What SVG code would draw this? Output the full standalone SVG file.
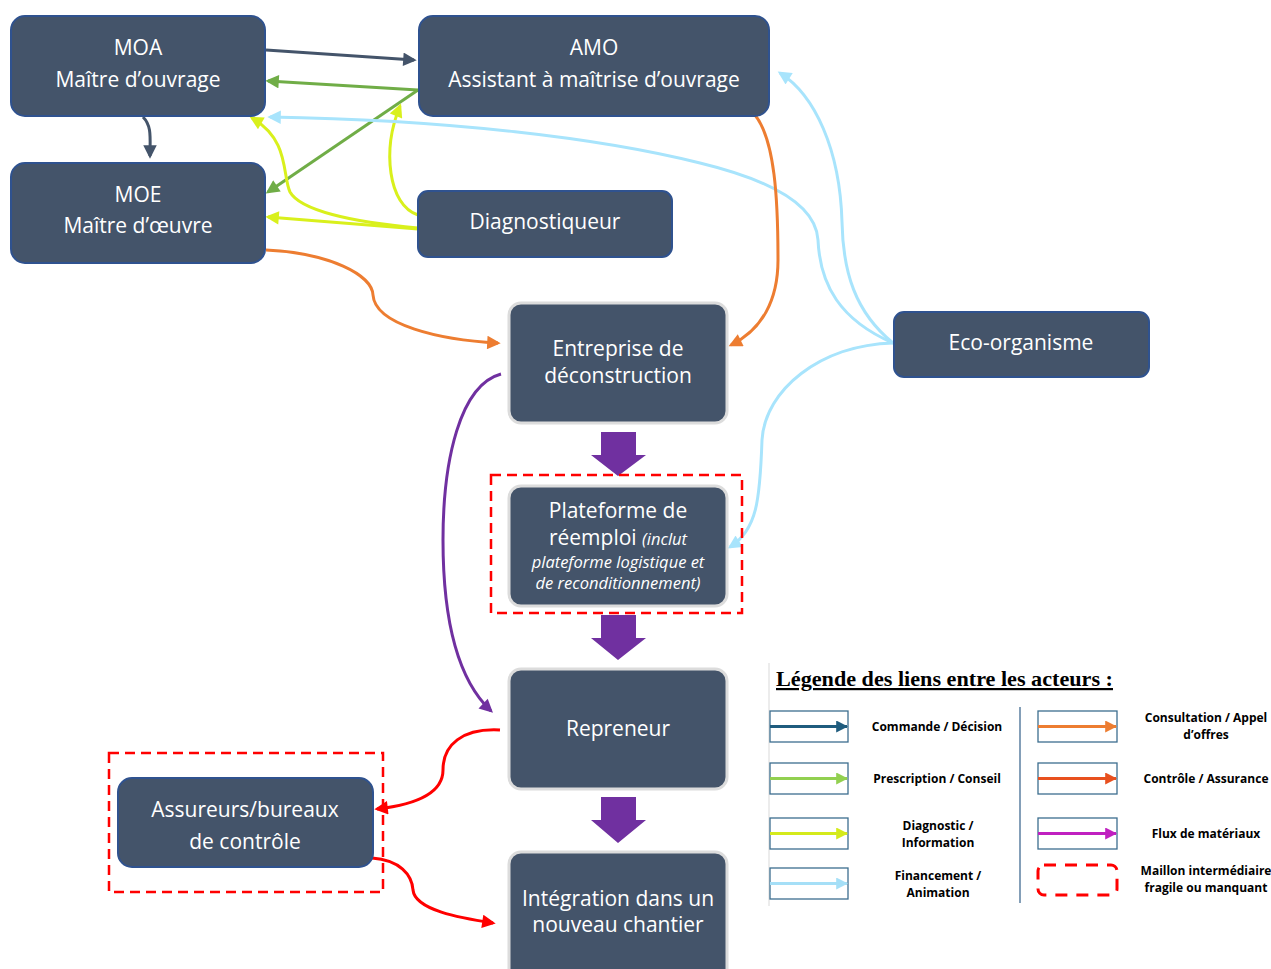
<svg xmlns="http://www.w3.org/2000/svg" width="1271" height="969" viewBox="0 0 1271 969">
<defs>
<style>
.node{fill:#44546A;stroke:#2F528F;stroke-width:2}
.cnode{fill:#44546A;stroke:#DCDCDC;stroke-width:3}
.t{font-family:"Open Sans","Noto Sans",sans-serif;font-size:21px;fill:#FFFFFF;text-anchor:middle}
.ti{font-family:"Open Sans","Noto Sans",sans-serif;font-size:16.5px;font-style:italic;fill:#FFFFFF;text-anchor:middle}
.dash{fill:none;stroke:#FF0000;stroke-width:2.5;stroke-dasharray:10,6}
.c{fill:none;stroke-width:3}
.lg{font-family:"Open Sans","Noto Sans",sans-serif;font-size:12px;font-weight:bold;fill:#000;text-anchor:middle}
.lbox{fill:#fff;stroke:#3C6E8F;stroke-width:1.3}
.blk{fill:#7030A0}
</style>
<marker id="mDark" viewBox="0 0 10 10" refX="8" refY="5" markerWidth="5" markerHeight="4.5" orient="auto"><path d="M0,0 L10,5 L0,10 z" fill="#44546A"/></marker>
<marker id="mGreen" viewBox="0 0 10 10" refX="8" refY="5" markerWidth="5" markerHeight="4.5" orient="auto"><path d="M0,0 L10,5 L0,10 z" fill="#70AD47"/></marker>
<marker id="mYel" viewBox="0 0 10 10" refX="8" refY="5" markerWidth="5" markerHeight="4.5" orient="auto"><path d="M0,0 L10,5 L0,10 z" fill="#D9F01C"/></marker>
<marker id="mBlue" viewBox="0 0 10 10" refX="8" refY="5" markerWidth="5" markerHeight="4.5" orient="auto"><path d="M0,0 L10,5 L0,10 z" fill="#A8E4FC"/></marker>
<marker id="mOr" viewBox="0 0 10 10" refX="8" refY="5" markerWidth="5" markerHeight="4.5" orient="auto"><path d="M0,0 L10,5 L0,10 z" fill="#ED7D31"/></marker>
<marker id="mPur" viewBox="0 0 10 10" refX="8" refY="5" markerWidth="5" markerHeight="4.5" orient="auto"><path d="M0,0 L10,5 L0,10 z" fill="#7030A0"/></marker>
<marker id="mRed" viewBox="0 0 10 10" refX="8" refY="5" markerWidth="5" markerHeight="4.5" orient="auto"><path d="M0,0 L10,5 L0,10 z" fill="#FF0000"/></marker>
<marker id="lA" viewBox="0 0 10 10" refX="9" refY="5" markerWidth="4" markerHeight="4" orient="auto"><path d="M0,0 L10,5 L0,10 z" fill="context-stroke"/></marker>
</defs>
<rect x="0" y="0" width="1271" height="969" fill="#FFFFFF"/>

<g id="connectors">
<path class="c" stroke="#44546A" d="M266,50 L414,60" marker-end="url(#mDark)"/>
<path class="c" stroke="#44546A" d="M143,117 C152,126 150,138 150,156" marker-end="url(#mDark)"/>
<path class="c" stroke="#70AD47" d="M418,90 L268,81" marker-end="url(#mGreen)"/>
<path class="c" stroke="#70AD47" d="M418,90 L268,192" marker-end="url(#mGreen)"/>
<path class="c" stroke="#D9F01C" d="M418,215 C388,205 382,150 400,106" marker-end="url(#mYel)"/>
<path class="c" stroke="#D9F01C" d="M418,228 C350,222 300,210 290,192 C282,175 290,140 252,118" marker-end="url(#mYel)"/>
<path class="c" stroke="#D9F01C" d="M418,229 L268,217" marker-end="url(#mYel)"/>
<path class="c" stroke="#A8E4FC" d="M893,343 C840,320 820,285 818,240 C816,205 770,180 700,163 C600,138 450,120 270,117" marker-end="url(#mBlue)"/>
<path class="c" stroke="#A8E4FC" d="M893,343 C855,312 843,272 842,222 C840,150 815,95 780,73" marker-end="url(#mBlue)"/>
<path class="c" stroke="#A8E4FC" d="M893,343 C820,345 765,390 762,440 C760,500 757,530 730,547" marker-end="url(#mBlue)"/>
<path class="c" stroke="#ED7D31" d="M755,115 C775,140 778,200 778,260 C778,300 762,330 731,345" marker-end="url(#mOr)"/>
<path class="c" stroke="#ED7D31" d="M266,250 C330,253 372,275 373,295 C375,325 440,340 498,343" marker-end="url(#mOr)"/>
<path class="c" stroke="#7030A0" d="M501,374 C460,385 443,460 443,540 C443,620 458,680 491,711" marker-end="url(#mPur)"/>
<path class="c" stroke="#FF0000" d="M500,730 C462,728 443,745 443,770 C443,795 412,805 377,809" marker-end="url(#mRed)"/>
<path class="c" stroke="#FF0000" d="M372,858 C400,860 412,875 413,890 C415,910 460,918 493,923" marker-end="url(#mRed)"/>
<path class="blk" d="M601,432 H636 V455 H646 L618,476 L591,455 H601 Z"/>
<path class="blk" d="M601,615 H636 V638 H646 L618,660 L591,638 H601 Z"/>
<path class="blk" d="M601,797 H636 V820 H646 L618,843 L591,820 H601 Z"/>
</g>

<g id="moa"><rect class="node" x="11" y="16" width="254" height="100" rx="14"/><text class="t" x="138" y="55">MOA</text><text class="t" x="138" y="87">Maître d’ouvrage</text></g>
<g id="amo"><rect class="node" x="419" y="16" width="350" height="100" rx="14"/><text class="t" x="594" y="55">AMO</text><text class="t" x="594" y="87">Assistant à maîtrise d’ouvrage</text></g>
<g id="moe"><rect class="node" x="11" y="163" width="254" height="100" rx="14"/><text class="t" x="138" y="202">MOE</text><text class="t" x="138" y="233">Maître d’œuvre</text></g>
<g id="diag"><rect class="node" x="418" y="191" width="254" height="66" rx="10"/><text class="t" x="545" y="229">Diagnostiqueur</text></g>
<g id="eco"><rect class="node" x="894" y="312" width="255" height="65" rx="10"/><text class="t" x="1021" y="350">Eco-organisme</text></g>
<g id="entreprise"><rect class="cnode" x="509" y="303" width="218" height="120" rx="12"/><text class="t" x="618" y="356">Entreprise de</text><text class="t" x="618" y="383">déconstruction</text></g>
<g id="plateforme"><rect class="dash" x="491" y="475" width="251" height="138"/><rect class="cnode" x="509" y="486" width="218" height="120" rx="12"/><text class="t" x="618" y="518">Plateforme de</text><text class="t" x="618" y="545">réemploi <tspan style="font-size:16.5px;font-style:italic">(inclut</tspan></text><text class="ti" x="618" y="568">plateforme logistique et</text><text class="ti" x="618" y="589">de reconditionnement)</text></g>
<g id="repreneur"><rect class="cnode" x="509" y="669" width="218" height="120" rx="12"/><text class="t" x="618" y="736">Repreneur</text></g>
<g id="integration"><rect class="cnode" x="509" y="852" width="218" height="130" rx="12"/><text class="t" x="618" y="906">Intégration dans un</text><text class="t" x="618" y="932">nouveau chantier</text></g>
<g id="assureurs"><rect class="dash" x="109" y="753" width="274" height="139"/><rect class="node" x="118" y="778" width="255" height="89" rx="14"/><text class="t" x="245" y="817">Assureurs/bureaux</text><text class="t" x="245" y="849">de contrôle</text></g>

<g id="legend">
<line x1="769" y1="663" x2="769" y2="906" stroke="#E6E6E6" stroke-width="1.5"/>
<text x="776" y="686" font-family="'Liberation Serif',serif" font-size="22" font-weight="bold" fill="#000" text-decoration="underline" textLength="337" lengthAdjust="spacingAndGlyphs">Légende des liens entre les acteurs :</text>
<line x1="1020" y1="707" x2="1020" y2="903" stroke="#5B7FA0" stroke-width="1.5"/>
<rect class="lbox" x="770" y="711" width="78" height="31"/><line x1="770" y1="726.5" x2="847" y2="726.5" stroke="#1F5C7E" stroke-width="3" marker-end="url(#lA)"/>
<rect class="lbox" x="770" y="763" width="78" height="31"/><line x1="770" y1="778.5" x2="847" y2="778.5" stroke="#92D050" stroke-width="3" marker-end="url(#lA)"/>
<rect class="lbox" x="770" y="818" width="78" height="31"/><line x1="770" y1="833.5" x2="847" y2="833.5" stroke="#D4EA1B" stroke-width="3" marker-end="url(#lA)"/>
<rect class="lbox" x="770" y="868" width="78" height="31"/><line x1="770" y1="883.5" x2="847" y2="883.5" stroke="#A5DFF7" stroke-width="3" marker-end="url(#lA)"/>
<rect class="lbox" x="1038" y="711" width="79" height="31"/><line x1="1038" y1="726.5" x2="1116" y2="726.5" stroke="#ED7D31" stroke-width="3" marker-end="url(#lA)"/>
<rect class="lbox" x="1038" y="763" width="79" height="31"/><line x1="1038" y1="778.5" x2="1116" y2="778.5" stroke="#E8501E" stroke-width="3" marker-end="url(#lA)"/>
<rect class="lbox" x="1038" y="818" width="79" height="31"/><line x1="1038" y1="833.5" x2="1116" y2="833.5" stroke="#C020C0" stroke-width="3" marker-end="url(#lA)"/>
<rect x="1038" y="865" width="79" height="30" rx="6" fill="none" stroke="#FF0000" stroke-width="3" stroke-dasharray="12,9"/>
<text class="lg" x="937" y="731">Commande / Décision</text>
<text class="lg" x="937" y="783">Prescription / Conseil</text>
<text class="lg" x="938" y="830">Diagnostic /</text><text class="lg" x="938" y="847">Information</text>
<text class="lg" x="938" y="880">Financement /</text><text class="lg" x="938" y="897">Animation</text>
<text class="lg" x="1206" y="722">Consultation / Appel</text><text class="lg" x="1206" y="739">d’offres</text>
<text class="lg" x="1206" y="783">Contrôle / Assurance</text>
<text class="lg" x="1206" y="838">Flux de matériaux</text>
<text class="lg" x="1206" y="875">Maillon intermédiaire</text><text class="lg" x="1206" y="892">fragile ou manquant</text>
</g>
</svg>
